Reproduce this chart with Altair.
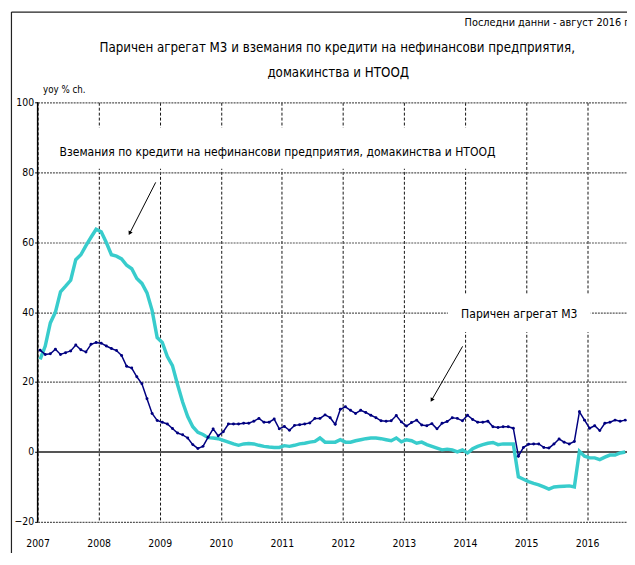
import altair as alt
import pandas as pd

# ---------------- data ----------------
years = [2007, 2008, 2009, 2010, 2011, 2012, 2013, 2014, 2015, 2016]
y_ticks = [-20, 0, 20, 40, 60, 80, 100]

# monthly, Jan 2007 .. Aug 2016, yoy % change
m3 = [
    29.1, 27.9, 28.1, 29.4, 27.9, 28.4, 28.9, 30.6, 29.2, 28.6, 30.8, 31.3,   # 2007
    31.1, 30.3, 29.6, 29.0, 27.6, 24.5, 24.0, 21.5, 19.5, 15.2, 11.0, 9.0,    # 2008
    8.5, 8.0, 6.7, 5.4, 4.9, 4.0, 2.1, 1.0, 1.6, 4.2, 6.6, 4.6,               # 2009
    5.8, 8.0, 8.0, 8.0, 8.2, 8.2, 8.8, 9.6, 8.5, 8.5, 9.4, 6.6,               # 2010
    7.3, 6.2, 7.6, 7.8, 8.0, 8.3, 9.6, 9.6, 10.6, 9.8, 7.9, 12.2,             # 2011
    12.9, 11.9, 11.0, 11.9, 11.3, 10.5, 9.8, 8.9, 8.8, 8.9, 10.4, 8.6,        # 2012
    7.4, 8.4, 9.1, 7.7, 7.5, 8.1, 6.6, 8.2, 8.7, 9.8, 9.6, 8.9,               # 2013
    10.5, 9.3, 8.5, 8.5, 8.8, 7.2, 7.0, 7.2, 7.2, 6.8, -1.2, 1.3,             # 2014
    2.2, 2.3, 2.3, 1.3, 1.1, 2.3, 3.7, 2.8, 2.3, 3.0, 11.5, 9.1,              # 2015
    6.8, 7.5, 6.1, 8.2, 8.5, 9.1, 8.8, 9.1,                                   # 2016
]
loans = [
    26.5, 30.3, 36.9, 40.0, 45.8, 47.4, 49.1, 55.0, 56.4, 59.0, 61.4, 63.7,   # 2007
    63.0, 59.9, 56.4, 56.0, 55.2, 53.4, 52.4, 49.6, 48.2, 45.5, 40.5, 32.7,   # 2008
    31.3, 27.3, 24.7, 19.3, 14.3, 10.1, 7.2, 5.6, 5.0, 4.1, 4.0, 3.8,         # 2009
    3.3, 2.8, 2.3, 1.9, 2.3, 2.4, 2.3, 1.9, 1.6, 1.4, 1.3, 1.3,               # 2010
    1.8, 1.6, 1.9, 2.3, 2.5, 2.8, 3.0, 4.0, 2.8, 2.8, 2.8, 3.5,               # 2011
    2.8, 2.8, 3.2, 3.5, 3.8, 4.0, 4.0, 3.8, 3.5, 3.2, 4.0, 2.9,               # 2012
    3.5, 3.2, 2.5, 2.8, 2.1, 1.6, 1.1, 0.6, 0.8, 0.6, 0.0, 0.6,               # 2013
    -0.3, 0.9, 1.6, 2.1, 2.5, 2.7, 2.1, 2.3, 2.3, 2.3, -7.1, -7.8,            # 2014
    -8.5, -9.0, -9.4, -10.0, -10.6, -10.0, -9.9, -9.8, -9.7, -10.0, 0.2, -1.2,  # 2015
    -1.7, -1.7, -2.2, -1.5, -0.9, -0.9, -0.3, 0.0,                            # 2016
]

title_line1 = "Паричен агрегат М3 и вземания по кредити на нефинансови предприятия,"
title_line2 = "домакинства и НТООД"
subtitle = "Последни данни - август 2016 г."
unit_label = "yoy % ch."
label_loans = "Вземания по кредити на нефинансови предприятия, домакинства и НТООД"
label_m3 = "Паричен агрегат М3"

# ---------------- build tables ----------------
t = [2007 + (i + 0.5) / 12 for i in range(len(m3))]
df = pd.DataFrame({"t": t, "m3": m3, "loans": loans})

FONT = "DejaVu Sans Condensed"
NAVY = "#000080"
CYAN = "#38CCCC"

xs = alt.Scale(domain=[2007, 2016.654], nice=False, zero=False)
ys = alt.Scale(domain=[-20, 100], nice=False, zero=False)
XAX = alt.Axis(values=years, format="d", grid=True, gridDash=[3, 2], gridColor="#111",
               gridWidth=1, domain=False, ticks=False, labelFont=FONT, labelFontSize=10.5,
               labelColor="black", labelPadding=17, title=None, labelFlush=False)
YAX = alt.Axis(values=y_ticks, grid=True, gridDash=[2, 1], gridColor="#555", gridWidth=1.2,
               domain=False, ticks=True, tickSize=3, tickColor="black", labelFont=FONT,
               labelFontSize=10.5, labelColor="black", labelPadding=1, title=None)


def X(f):
    return alt.X(f, scale=xs, axis=XAX)


def Y(f):
    return alt.Y(f, scale=ys, axis=YAX)


# white boxes behind the annotation texts (data coords)
boxes = pd.DataFrame({"x": [2007.28, 2013.72], "x2": [2014.48, 2016.06],
                      "y": [81.0, 34.3], "y2": [92.8, 45.0]})
box_layer = alt.Chart(boxes).mark_rect(color="white").encode(
    x=X("x:Q"), x2="x2:Q", y=Y("y:Q"), y2="y2:Q")

zero_layer = alt.Chart(pd.DataFrame({"y": [0]})).mark_rule(color="#555", strokeWidth=2).encode(
    y=Y("y:Q"))
left_layer = alt.Chart(pd.DataFrame({"x": [2007], "y": [-20], "y2": [100]})).mark_rule(
    color="black", strokeWidth=1.5).encode(x=X("x:Q"), y=Y("y:Q"), y2="y2:Q")

loans_layer = alt.Chart(df).mark_line(color=CYAN, strokeWidth=3.5).encode(
    x=X("t:Q"), y=Y("loans:Q"))
m3_line = alt.Chart(df).mark_line(color=NAVY, strokeWidth=1.5).encode(
    x=X("t:Q"), y=Y("m3:Q"))
m3_pts = alt.Chart(df).mark_point(color=NAVY, filled=True, size=9, opacity=1).encode(
    x=X("t:Q"), y=Y("m3:Q"))

labels = pd.DataFrame({"x": [2007.36, 2014.89], "y": [85.9, 39.4],
                       "txt": [label_loans, label_m3]})
lab1 = alt.Chart(labels.iloc[[0]]).mark_text(align="left", baseline="middle", font=FONT,
                                             fontSize=12.2, color="black").encode(
    x=X("x:Q"), y=Y("y:Q"), text="txt:N")
lab2 = alt.Chart(labels.iloc[[1]]).mark_text(align="center", baseline="middle", font=FONT,
                                             fontSize=12.2, color="black").encode(
    x=X("x:Q"), y=Y("y:Q"), text="txt:N")

arrows = pd.DataFrame({"x": [2008.934, 2013.961], "y": [77.1, 30.2],
                       "x2": [2008.513, 2013.46], "y2": [62.7, 15.0],
                       "ang": [207, 210]})
arrow_lines = alt.Chart(arrows).mark_rule(color="black", strokeWidth=1).encode(
    x=X("x:Q"), y=Y("y:Q"), x2="x2:Q", y2="y2:Q")
arrow_heads = alt.Chart(arrows).mark_point(shape="triangle", filled=True, color="black",
                                           size=22, opacity=1).encode(
    x=X("x2:Q"), y=Y("y2:Q"), angle=alt.Angle("ang:Q", scale=None))

one = pd.DataFrame({"k": [0]})


def ptext(txt, px, py, size, align="center"):
    return alt.Chart(one).mark_text(align=align, baseline="middle", font=FONT,
                                    fontSize=size, color="black").encode(
        x=alt.value(px), y=alt.value(py), text=alt.value(txt))


t1 = ptext(title_line1, 303.5, -55, 13.4)
t2 = ptext(title_line2, 304.5, -30, 13.4)
st = ptext(subtitle, 432.5, -80, 11, "left")
ul = ptext(unit_label, 5.5, -12, 9.8, "left")

frame_v = alt.Chart(one).mark_rule(color="#222", strokeWidth=1.2).encode(
    x=alt.value(-26.5), y=alt.value(-91.4), y2=alt.value(460))
frame_h = alt.Chart(one).mark_rule(color="#222", strokeWidth=1.2).encode(
    x=alt.value(-26.5), x2=alt.value(620), y=alt.value(-91.4))

chart = alt.layer(
    box_layer, zero_layer, left_layer, loans_layer, m3_line, m3_pts,
    lab1, lab2, arrow_lines, arrow_heads, t1, t2, st, ul, frame_v, frame_h,
).properties(
    width=597, height=425,
    autosize=alt.AutoSizeParams(type="none"),
    padding={"left": 30, "top": 92, "right": 0, "bottom": 28},
    background="white",
).configure_view(stroke=None)

chart.save("out.html", embed_options={"renderer": "svg", "actions": False})
